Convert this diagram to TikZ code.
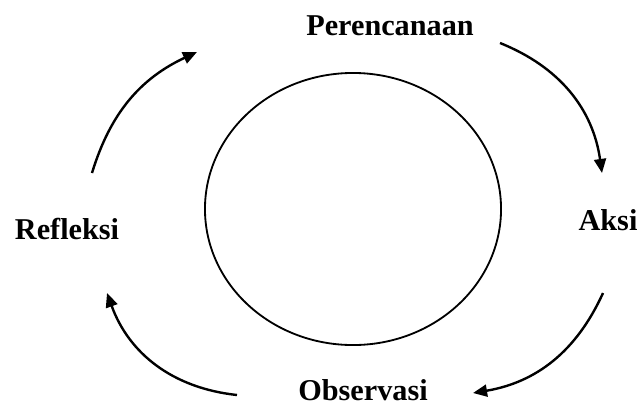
\documentclass[tikz,border=0pt]{standalone}
\usepackage{fontspec}
\setmainfont{Liberation Serif}
\usepackage{tikz}
\usetikzlibrary{shapes.geometric, arrows.meta, positioning}

\begin{document}
\begin{tikzpicture}[x=0.025cm, y=-0.025cm,
  stage/.style={font=\bfseries\fontsize{21.5}{24}\selectfont, inner sep=0pt, anchor=base},
  flow/.style={line width=1.7pt, -{Triangle[length=10pt, width=8.5pt]}},
  ring/.style={draw, ellipse, line width=1.3pt, minimum width=7.4cm, minimum height=6.8cm}]
  \useasboundingbox (0,0) rectangle (642,408);

  % the cycle in the middle
  \node[ring] (cycle) at (353,209) {};

  % stage labels
  \node[stage] (plan)    at (390,35)  {Perencanaan};
  \node[stage] (act)     at (608,230) {Aksi};
  \node[stage] (observe) at (363,400) {Observasi};
  \node[stage] (reflect) at (67,239)  {Refleksi};

  % arrow ends
  \coordinate (reflect-out) at (92,173);
  \coordinate (plan-in)     at (197,52);
  \coordinate (plan-out)    at (500,43);
  \coordinate (act-in)      at (602,173);
  \coordinate (act-out)     at (603,293);
  \coordinate (observe-in)  at (473,393);
  \coordinate (observe-out) at (237,395);
  \coordinate (reflect-in)  at (107,293);

  % clockwise arrows
  \draw[flow] (reflect-out) to[bend left=24] (plan-in);
  \draw[flow] (plan-out)    to[bend left=30] (act-in);
  \draw[flow] (act-out)     to[bend left=28] (observe-in);
  \draw[flow] (observe-out) to[bend left=32] (reflect-in);
\end{tikzpicture}
\end{document}
